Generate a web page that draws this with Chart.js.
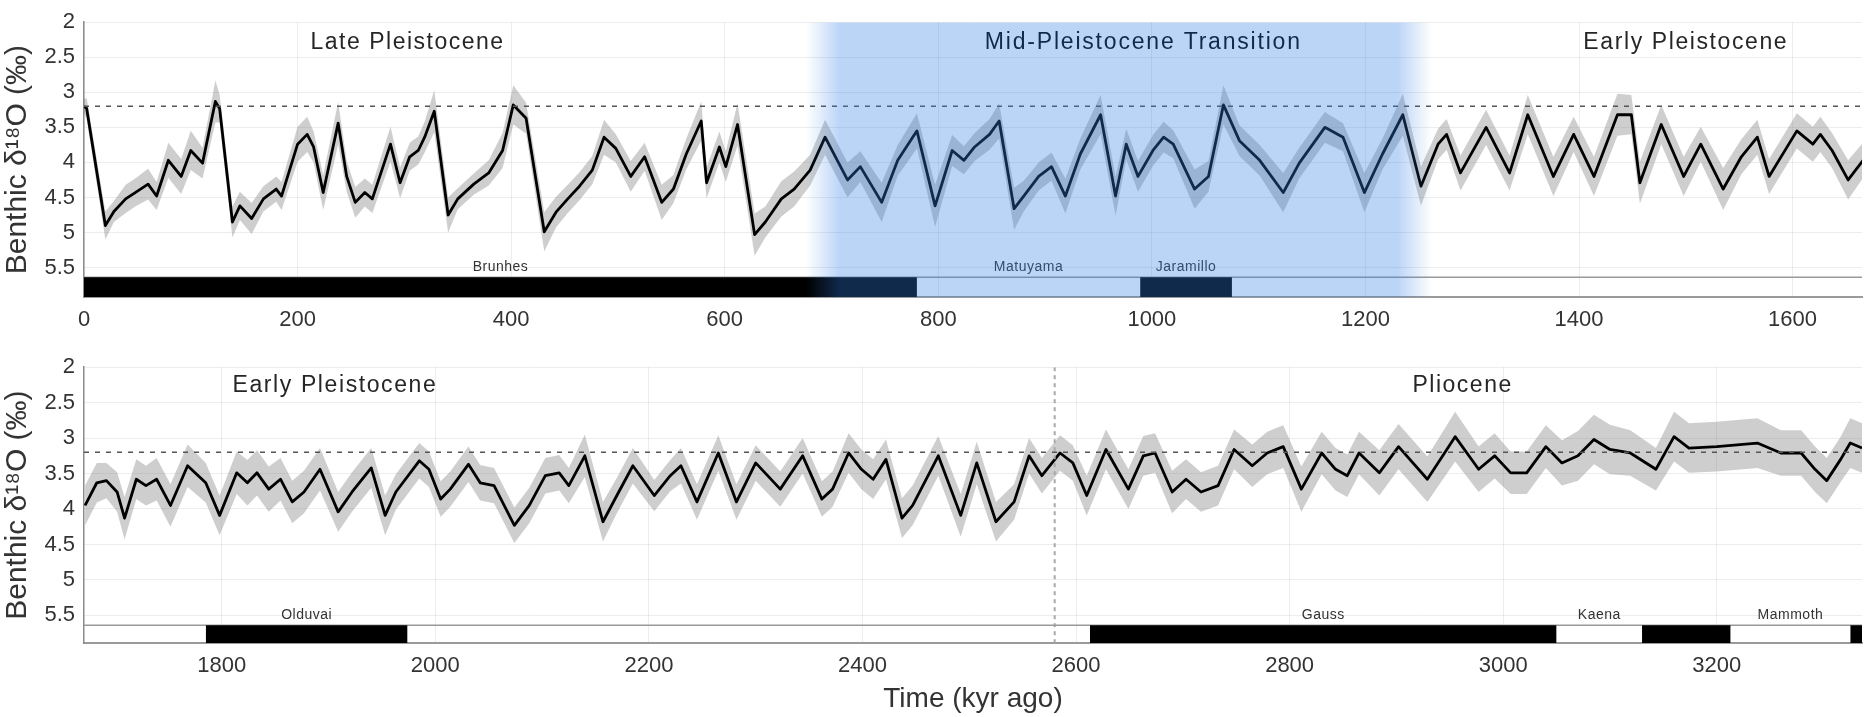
<!DOCTYPE html>
<html>
<head>
<meta charset="utf-8">
<script src="https://cdn.jsdelivr.net/npm/chart.js@4.4.1/dist/chart.umd.min.js"></script>
<style>
	html, body { margin: 0; padding: 0; background: #fff; }
	#upperWrap { position: absolute; left: 0; top: 0; width: 1864px; height: 345px; }
	#lowerWrap { position: absolute; left: 0; top: 345px; width: 1864px; height: 372px; }
</style>
</head>
<body>
<div id="upperWrap"><canvas id="upperChart"></canvas></div>
<div id="lowerWrap"><canvas id="lowerChart"></canvas></div>
<script>
// [kyr ago, benthic d18O, half width of the grey band]
const upperRecord = [
	[0, 3.20, 0.10], [2.5, 3.23, 0.15], [20, 4.90, 0.20], [28, 4.70, 0.15], [39, 4.52, 0.20],
	[48, 4.43, 0.20], [60, 4.31, 0.22], [68, 4.48, 0.20], [79, 3.97, 0.25], [91, 4.20, 0.25],
	[100, 3.83, 0.28], [111, 4.01, 0.22], [123, 3.13, 0.30], [127, 3.23, 0.20], [139, 4.85, 0.22],
	[146, 4.62, 0.20], [157, 4.80, 0.22], [168, 4.52, 0.18], [180, 4.38, 0.18], [185, 4.48, 0.20],
	[200, 3.74, 0.25], [209, 3.60, 0.25], [215, 3.78, 0.22], [224, 4.43, 0.25], [238, 3.44, 0.30],
	[246, 4.20, 0.22], [254, 4.57, 0.22], [263, 4.43, 0.20], [270, 4.52, 0.20], [287, 3.74, 0.25],
	[296, 4.29, 0.22], [305, 3.92, 0.20], [313, 3.83, 0.20], [319, 3.64, 0.22], [328, 3.27, 0.30],
	[341, 4.75, 0.25], [350, 4.52, 0.15], [365, 4.31, 0.15], [379, 4.15, 0.18], [392, 3.83, 0.25],
	[402, 3.18, 0.28], [414, 3.37, 0.22], [431, 4.99, 0.28], [442, 4.71, 0.22], [453, 4.52, 0.20],
	[464, 4.34, 0.20], [476, 4.11, 0.20], [487, 3.64, 0.25], [498, 3.80, 0.20], [512, 4.20, 0.22],
	[525, 3.92, 0.20], [541, 4.57, 0.25], [552, 4.38, 0.20], [564, 3.88, 0.22], [578, 3.41, 0.28],
	[583, 4.29, 0.22], [595, 3.78, 0.22], [601, 4.06, 0.22], [612, 3.46, 0.30], [628, 5.03, 0.30],
	[638, 4.85, 0.22], [653, 4.52, 0.25], [665, 4.38, 0.25], [680, 4.11, 0.22], [694, 3.64, 0.25],
	[715, 4.25, 0.25], [727, 4.06, 0.22], [747, 4.57, 0.28], [762, 3.97, 0.22], [780, 3.55, 0.25],
	[797, 4.62, 0.30], [813, 3.83, 0.22], [824, 3.97, 0.20], [834, 3.78, 0.20], [848, 3.60, 0.22],
	[857, 3.41, 0.25], [871, 4.66, 0.30], [880, 4.48, 0.22], [894, 4.20, 0.20], [906, 4.06, 0.20],
	[919, 4.48, 0.25], [933, 3.88, 0.22], [952, 3.32, 0.28], [966, 4.48, 0.28], [976, 3.74, 0.22],
	[987, 4.20, 0.22], [1001, 3.83, 0.22], [1011, 3.64, 0.22], [1020, 3.74, 0.20], [1040, 4.38, 0.28],
	[1053, 4.20, 0.22], [1067, 3.18, 0.28], [1082, 3.69, 0.22], [1101, 3.97, 0.22], [1123, 4.43, 0.28],
	[1138, 4.01, 0.22], [1162, 3.50, 0.22], [1179, 3.64, 0.20], [1199, 4.43, 0.28], [1216, 3.88, 0.22],
	[1235, 3.32, 0.30], [1252, 4.34, 0.28], [1268, 3.74, 0.22], [1276, 3.60, 0.22], [1289, 4.15, 0.25],
	[1313, 3.50, 0.25], [1335, 4.15, 0.25], [1352, 3.32, 0.28], [1376, 4.20, 0.28], [1395, 3.60, 0.25],
	[1414, 4.20, 0.28], [1436, 3.32, 0.30], [1449, 3.32, 0.28], [1457, 4.29, 0.30], [1477, 3.46, 0.28],
	[1498, 4.20, 0.28], [1514, 3.74, 0.25], [1535, 4.38, 0.30], [1552, 3.92, 0.25], [1567, 3.64, 0.25],
	[1578, 4.20, 0.25], [1604, 3.55, 0.25], [1619, 3.74, 0.25], [1626, 3.60, 0.25], [1637, 3.83, 0.25],
	[1652, 4.25, 0.28], [1666, 3.97, 0.25]
];

const lowerRecord = [
	[1672, 3.95, 0.28], [1683, 3.63, 0.28], [1692, 3.60, 0.25], [1702, 3.76, 0.28], [1709, 4.13, 0.30],
	[1720, 3.58, 0.28], [1729, 3.67, 0.28], [1739, 3.58, 0.30], [1752, 3.95, 0.30], [1768, 3.39, 0.30],
	[1785, 3.63, 0.28], [1798, 4.09, 0.28], [1814, 3.49, 0.30], [1824, 3.63, 0.32], [1833, 3.49, 0.32],
	[1844, 3.72, 0.32], [1855, 3.58, 0.30], [1866, 3.90, 0.30], [1877, 3.76, 0.30], [1892, 3.44, 0.30],
	[1909, 4.04, 0.28], [1922, 3.76, 0.28], [1940, 3.42, 0.28], [1953, 4.09, 0.28], [1963, 3.76, 0.25],
	[1985, 3.32, 0.25], [1994, 3.44, 0.25], [2005, 3.86, 0.25], [2014, 3.72, 0.25], [2031, 3.37, 0.25],
	[2042, 3.63, 0.25], [2055, 3.67, 0.25], [2074, 4.23, 0.25], [2088, 3.95, 0.25], [2103, 3.53, 0.25],
	[2116, 3.49, 0.25], [2125, 3.67, 0.25], [2140, 3.25, 0.30], [2157, 4.18, 0.28], [2170, 3.81, 0.25],
	[2185, 3.39, 0.25], [2205, 3.81, 0.22], [2220, 3.53, 0.22], [2230, 3.39, 0.25], [2245, 3.90, 0.25],
	[2265, 3.21, 0.25], [2282, 3.90, 0.25], [2300, 3.35, 0.25], [2323, 3.72, 0.25], [2344, 3.25, 0.25],
	[2362, 3.86, 0.25], [2372, 3.72, 0.25], [2387, 3.21, 0.28], [2399, 3.44, 0.28], [2410, 3.58, 0.28],
	[2422, 3.30, 0.28], [2437, 4.13, 0.28], [2447, 3.95, 0.28], [2471, 3.25, 0.28], [2492, 4.09, 0.30],
	[2507, 3.35, 0.30], [2525, 4.18, 0.28], [2542, 3.90, 0.25], [2556, 3.25, 0.25], [2568, 3.53, 0.25],
	[2585, 3.21, 0.25], [2597, 3.35, 0.25], [2610, 3.81, 0.28], [2628, 3.16, 0.28], [2649, 3.72, 0.28],
	[2663, 3.25, 0.28], [2674, 3.21, 0.28], [2690, 3.76, 0.30], [2703, 3.58, 0.28], [2717, 3.76, 0.28],
	[2733, 3.67, 0.28], [2748, 3.16, 0.28], [2765, 3.39, 0.30], [2779, 3.21, 0.30], [2794, 3.12, 0.30],
	[2811, 3.72, 0.32], [2830, 3.21, 0.30], [2843, 3.44, 0.30], [2854, 3.53, 0.30], [2865, 3.21, 0.30],
	[2884, 3.49, 0.32], [2902, 3.12, 0.32], [2929, 3.58, 0.32], [2955, 2.98, 0.35], [2977, 3.44, 0.32],
	[2992, 3.25, 0.32], [3007, 3.49, 0.30], [3022, 3.49, 0.30], [3040, 3.12, 0.30], [3055, 3.35, 0.32],
	[3070, 3.25, 0.35], [3085, 3.02, 0.35], [3100, 3.16, 0.35], [3119, 3.21, 0.32], [3143, 3.44, 0.30],
	[3160, 2.98, 0.35], [3174, 3.14, 0.35], [3200, 3.12, 0.35], [3238, 3.07, 0.35], [3260, 3.21, 0.32],
	[3279, 3.21, 0.32], [3292, 3.44, 0.32], [3303, 3.60, 0.32], [3316, 3.30, 0.32], [3325, 3.07, 0.35],
	[3336, 3.14, 0.35]
];

const upperRange = [0, 1665];
const lowerRange = [1671, 3336];
const upperTicks = [0, 200, 400, 600, 800, 1000, 1200, 1400, 1600];
const lowerTicks = [1800, 2000, 2200, 2400, 2600, 2800, 3000, 3200];
const yTicks = [2, 2.5, 3, 3.5, 4, 4.5, 5, 5.5];

// magnetic polarity: black = normal
const upperNormal = [[0, 780], [989, 1075]];
const lowerNormal = [[1785, 1974], [2613, 3050], [3130, 3213], [3325, 3336]];
const upperChronNames = ['Brunhes', 'Matuyama', 'Jaramillo'];
const upperChronSpans = [[0, 780], [780, 989], [989, 1075]];
const lowerChronNames = ['Olduvai', 'Gauss', 'Kaena', 'Mammoth'];
const lowerChronSpans = [[1785, 1974], [2613, 3050], [3050, 3130], [3213, 3325]];

const referenceLevel = 3.2;
const plioPleistoBoundary = 2580;
const mptWindow = [676, 708, 1230, 1262];

const fontFamily = '"Liberation Sans", Arial, Helvetica, sans-serif';
const chronTop = 5.64;

function panelText(epochs, names, spans) {
	return {
		id: 'panelText',
		beforeDatasetsDraw(chart) {
			const {ctx, scales: {x, y}} = chart;
			ctx.save();
			ctx.textAlign = 'center';
			ctx.textBaseline = 'middle';
			ctx.font = '23px ' + fontFamily;
			epochs.forEach((e) => {
				ctx.fillStyle = e.color;
				ctx.letterSpacing = e.spacing;
				ctx.fillText(e.text, x.getPixelForValue(e.at), y.getPixelForValue(e.level));
			});
			ctx.letterSpacing = '0.5px';
			ctx.font = '14px ' + fontFamily;
			ctx.fillStyle = '#333';
			ctx.textBaseline = 'bottom';
			names.forEach((name, i) => {
				const mid = (spans[i][0] + spans[i][1]) / 2;
				ctx.fillText(name, x.getPixelForValue(mid), y.getPixelForValue(chronTop) - 3);
			});
			ctx.restore();
		}
	};
}

function buildPanel(canvasId, p) {
	let datasets = [];

	if (p.mpt) {
		datasets.push({
			data: [{x: p.mpt[0], y: 2}, {x: p.mpt[3], y: 2}],
			order: 0,
			borderWidth: 0,
			pointRadius: 0,
			fill: {value: p.yMax},
			backgroundColor: (c) => {
				const chart = c.chart;
				if (!chart.chartArea) return 'rgba(0,0,0,0)';
				const xs = chart.scales.x;
				const a = xs.getPixelForValue(p.mpt[0]);
				const b = xs.getPixelForValue(p.mpt[3]);
				const g = chart.ctx.createLinearGradient(a, 0, b, 0);
				g.addColorStop(0, 'rgba(48,127,230,0)');
				g.addColorStop((xs.getPixelForValue(p.mpt[1]) - a) / (b - a), 'rgba(48,127,230,0.33)');
				g.addColorStop((xs.getPixelForValue(p.mpt[2]) - a) / (b - a), 'rgba(48,127,230,0.33)');
				g.addColorStop(1, 'rgba(48,127,230,0)');
				return g;
			}
		});
	}

	p.normal.forEach((span) => {
		datasets.push({
			data: [{x: span[0], y: chronTop}, {x: span[1], y: chronTop}],
			order: 1,
			borderWidth: 0,
			pointRadius: 0,
			fill: {value: p.yMax},
			backgroundColor: '#000'
		});
	});

	datasets.push({
		data: [{x: p.range[0], y: chronTop}, {x: p.range[1], y: chronTop}],
		order: 2,
		borderColor: '#9a9a9a',
		borderWidth: 1.5,
		pointRadius: 0
	});

	datasets.push({
		data: [{x: p.range[0], y: referenceLevel}, {x: p.range[1], y: referenceLevel}],
		order: 3,
		borderColor: '#555',
		borderWidth: 1.5,
		borderDash: [5, 6],
		pointRadius: 0
	});

	if (p.boundary) {
		datasets.push({
			data: [{x: p.boundary, y: 2}, {x: p.boundary, y: p.yMax}],
			order: 3,
			borderColor: '#a8a8a8',
			borderWidth: 2,
			borderDash: [4, 4],
			pointRadius: 0
		});
	}

	datasets.push({
		data: p.record.map((r) => ({x: r[0], y: r[1]})),
		order: 4,
		borderColor: '#000',
		borderWidth: 2.8,
		borderJoinStyle: 'round',
		pointRadius: 0,
		tension: 0
	});

	datasets.push({
		data: p.record.map((r) => ({x: r[0], y: r[1] - r[2]})),
		order: 6,
		borderWidth: 0,
		pointRadius: 0,
		tension: 0
	});
	datasets.push({
		data: p.record.map((r) => ({x: r[0], y: r[1] + r[2]})),
		order: 5,
		borderWidth: 0,
		pointRadius: 0,
		tension: 0,
		fill: '-1',
		backgroundColor: 'rgba(120,120,120,0.36)'
	});

	return new Chart(document.getElementById(canvasId), {
		type: 'line',
		data: {datasets: datasets},
		options: {
			responsive: true,
			maintainAspectRatio: false,
			animation: false,
			layout: {padding: {top: p.padTop, right: 2, left: 0, bottom: 0}},
			plugins: {legend: {display: false}, tooltip: {enabled: false}},
			scales: {
				x: {
					type: 'linear',
					min: p.range[0],
					max: p.range[1],
					afterBuildTicks: (s) => { s.ticks = p.ticks.map((v) => ({value: v})); },
					afterFit: (s) => { s.height = p.xAxisHeight; },
					ticks: {
						callback: (v) => String(v),
						font: {family: fontFamily, size: 22},
						color: '#333',
						padding: 10,
						maxRotation: 0,
						autoSkip: false
					},
					grid: {color: 'rgba(0,0,0,0.07)', drawTicks: false},
					border: {color: '#9a9a9a', width: 2},
					title: {
						display: p.showTitle,
						text: 'Time (kyr ago)',
						font: {family: fontFamily, size: 28},
						color: '#333',
						padding: {top: 0, bottom: 1}
					}
				},
				y: {
					type: 'linear',
					reverse: true,
					min: 2,
					max: p.yMax,
					afterBuildTicks: (s) => { s.ticks = yTicks.map((v) => ({value: v})); },
					afterFit: (s) => { s.width = 84; },
					ticks: {
						callback: (v) => String(v),
						font: {family: fontFamily, size: 22},
						color: '#333',
						padding: 9
					},
					grid: {color: 'rgba(0,0,0,0.07)', drawTicks: false},
					border: {color: '#8c8c8c', width: 1.5},
					title: {
						display: true,
						text: 'Benthic δ¹⁸O (‰)',
						font: {family: fontFamily, size: 30},
						color: '#333',
						padding: {top: 0, bottom: 0}
					}
				}
			}
		},
		plugins: [panelText(p.epochs, p.names, p.spans)]
	});
}

buildPanel('upperChart', {
	record: upperRecord,
	range: upperRange,
	ticks: upperTicks,
	normal: upperNormal,
	names: upperChronNames,
	spans: upperChronSpans,
	mpt: mptWindow,
	yMax: 5.92,
	padTop: 15,
	xAxisHeight: 48,
	showTitle: false,
	epochs: [
		{text: 'Late Pleistocene', at: 303, level: 2.29, color: '#262626', spacing: '1.5px'},
		{text: 'Mid-Pleistocene Transition', at: 992, level: 2.29, color: '#000', spacing: '1.8px'},
		{text: 'Early Pleistocene', at: 1500, level: 2.29, color: '#262626', spacing: '1.6px'}
	]
});

buildPanel('lowerChart', {
	record: lowerRecord,
	range: lowerRange,
	ticks: lowerTicks,
	normal: lowerNormal,
	names: lowerChronNames,
	spans: lowerChronSpans,
	boundary: plioPleistoBoundary,
	yMax: 5.89,
	padTop: 18,
	xAxisHeight: 74,
	showTitle: true,
	epochs: [
		{text: 'Early Pleistocene', at: 1906, level: 2.26, color: '#262626', spacing: '1.6px'},
		{text: 'Pliocene', at: 2962, level: 2.26, color: '#262626', spacing: '1.5px'}
	]
});
</script>
</body>
</html>
